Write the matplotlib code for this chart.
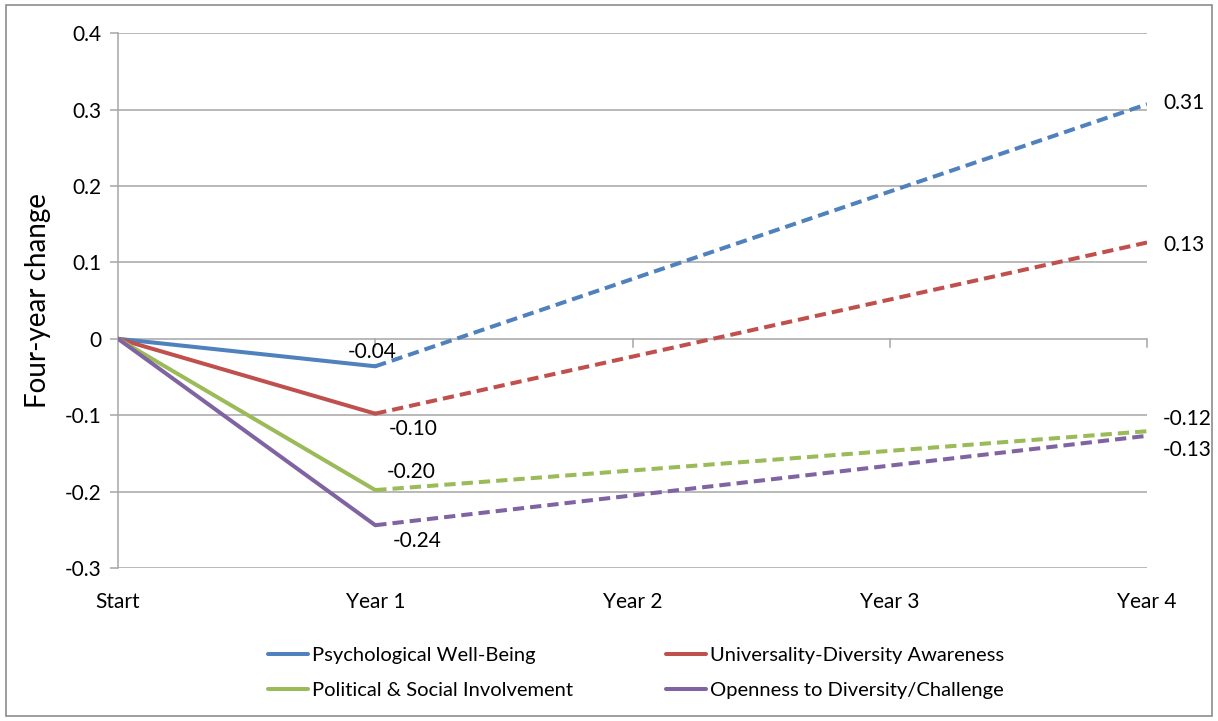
import matplotlib
matplotlib.use("Agg")
import matplotlib.pyplot as plt
import matplotlib.patches as patches

plt.rcParams['font.family'] = ['Lato', 'DejaVu Sans']

# Data
periods = ['Start', 'Year 1', 'Year 2', 'Year 3', 'Year 4']
series_names = ['Psychological Well-Being', 'Universality-Diversity Awareness',
                'Political & Social Involvement', 'Openness to Diversity/Challenge']
year1_change = [-0.036, -0.098, -0.198, -0.244]
year4_change = [0.307, 0.126, -0.121, -0.127]
colors = ['#4F81BD', '#C0504D', '#9BBB59', '#8064A2']

# label offsets in points (year 1, year 4)
y1_offsets = [(-2, 10), (27, -11), (26, 13), (30, -11.5)]
y4_offsets = [(27, 1), (27, -1.5), (29, 9), (29, -10)]

fig = plt.figure(figsize=(12.18, 7.21), dpi=100)
ax = fig.add_axes([0.0969, 0.2122, 0.9417 - 0.0969, 0.954 - 0.2122])

# figure frame
fig.patches.append(patches.Rectangle((0.005, 0.007), 0.99, 0.986, transform=fig.transFigure,
                                     fill=False, edgecolor='#8c8c8c', linewidth=1.2))

grid_col = '#a6a6a6'
yticks = [-0.3, -0.2, -0.1, 0, 0.1, 0.2, 0.3, 0.4]
for yv in yticks:
    ax.axhline(yv, color=grid_col, linewidth=1.1, zorder=1)

handles = []
for name, v1, v4, c, o1, o4 in zip(series_names, year1_change, year4_change, colors,
                                   y1_offsets, y4_offsets):
    h, = ax.plot([0, 1], [0, v1], color=c, linewidth=2.9, solid_capstyle='round',
                 zorder=3, label=name)
    ax.plot([1, 4], [v1, v4], color=c, linewidth=2.9, linestyle=(0, (2.8, 1.5)),
            zorder=3)
    handles.append(h)
    ax.annotate(f'{v1:.2f}', (1, v1), xytext=o1, textcoords='offset points',
                ha='center', va='center', fontsize=15, color='black', zorder=4)
    ax.annotate(f'{v4:.2f}', (4, v4), xytext=o4, textcoords='offset points',
                ha='center', va='center', fontsize=15, color='black',
                annotation_clip=False, zorder=4)

ax.set_xlim(0, 4)
ax.set_ylim(-0.3, 0.4)
ax.set_yticks(yticks)
ax.set_yticklabels(['-0.3', '-0.2', '-0.1', '0', '0.1', '0.2', '0.3', '0.4'])
ax.set_xticks(range(len(periods)))
ax.set_xticklabels(periods)
ax.tick_params(axis='y', length=6, color=grid_col, width=1.1, labelsize=15, pad=6)
ax.tick_params(axis='x', length=0, labelsize=15, pad=17)

for s in ['top', 'right', 'bottom']:
    ax.spines[s].set_visible(False)
ax.spines['left'].set_color(grid_col)
ax.spines['left'].set_linewidth(1.1)

# horizontal category axis sits on zero with downward ticks
for xv in range(1, len(periods)):
    ax.plot([xv, xv], [0, -0.011], color=grid_col, linewidth=1.1, zorder=1,
            clip_on=False)

ax.set_ylabel('Four-year change', fontsize=20, labelpad=10)

# legend filled row by row
order = [0, 2, 1, 3]
fig.legend(handles=[handles[i] for i in order], labels=[series_names[i] for i in order],
           loc='lower center', bbox_to_anchor=(0.522, 0.006), ncol=2, frameon=False,
           fontsize=14.5, handlelength=2.0, handletextpad=0.2, columnspacing=4.6,
           labelspacing=0.85)

fig.savefig('out.png', dpi=100)
